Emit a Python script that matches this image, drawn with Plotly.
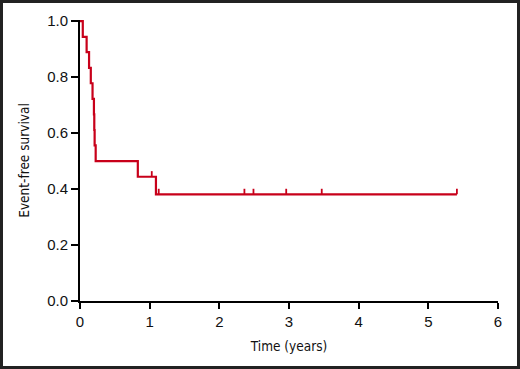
import plotly.graph_objects as go

# Kaplan-Meier step curve
step_time = [0, 0.04, 0.095, 0.13, 0.155, 0.18, 0.2, 0.205, 0.21, 0.225, 0.83, 1.09, 5.41]
step_surv = [1.0, 0.944, 0.889, 0.833, 0.778, 0.722, 0.667, 0.611, 0.556, 0.5, 0.444, 0.381, 0.381]

# Censored observations
censor_time = [1.03, 1.13, 2.36, 2.49, 2.96, 3.47, 5.41]
censor_surv = [0.444, 0.381, 0.381, 0.381, 0.381, 0.381, 0.381]

x_ticks = [0, 1, 2, 3, 4, 5, 6]
y_ticks = [0.0, 0.2, 0.4, 0.6, 0.8, 1.0]

RED = "#c8001a"
W, H = 520, 369
ML, MR, MT, MB = 80, 22, 20, 68
PW, PH = W - ML - MR, H - MT - MB

fig = go.Figure()
fig.add_trace(go.Scatter(
    x=step_time, y=step_surv, mode="lines", line=dict(color=RED, width=2.2, shape="hv"),
    showlegend=False, hoverinfo="skip"))
fig.add_trace(go.Scatter(
    x=censor_time, y=censor_surv, mode="markers", marker=dict(size=0.1, color=RED),
    error_y=dict(type="data", symmetric=False, array=[0.02] * len(censor_time),
                 arrayminus=[0] * len(censor_time), thickness=1.8, width=0, color=RED),
    showlegend=False, hoverinfo="skip"))

font_tick = dict(family="Liberation Sans, Arial, sans-serif", size=15, color="#111")
font_title = dict(family="DejaVu Sans Condensed, Liberation Sans Narrow, Arial Narrow, sans-serif", size=13.5, color="#111")

fig.update_layout(
    width=W, height=H,
    margin=dict(l=ML, r=MR, t=MT, b=MB),
    paper_bgcolor="white", plot_bgcolor="white",
    xaxis=dict(range=[0, 6], tickvals=x_ticks, ticktext=[str(v) for v in x_ticks],
               showgrid=False, zeroline=False, showline=True, linecolor="black", linewidth=2,
               ticks="outside", ticklen=6, tickwidth=2, tickcolor="black",
               tickfont=font_tick, title=dict(text="Time (years)", font=font_title, standoff=13)),
    yaxis=dict(range=[0, 1.004], tickvals=y_ticks, ticktext=[f"{v:.1f}" for v in y_ticks],
               showgrid=False, zeroline=False, showline=True, linecolor="black", linewidth=2,
               ticks="outside", ticklen=7, tickwidth=2, tickcolor="black",
               tickfont=font_tick, title=dict(text="Event-free survival", font=font_title, standoff=14)),
    shapes=[dict(type="rect", xref="paper", yref="paper",
                 x0=(1.5 - ML) / PW, x1=(W - 1.5 - ML) / PW,
                 y0=(MT + PH - (H - 1.5)) / PH, y1=(MT + PH - 1.5) / PH,
                 line=dict(color="#222", width=3), fillcolor="rgba(0,0,0,0)", layer="above")],
)

fig.write_html("out.html", config={"displayModeBar": False},
               post_script="document.body.style.margin='0';document.body.style.padding='0';")
